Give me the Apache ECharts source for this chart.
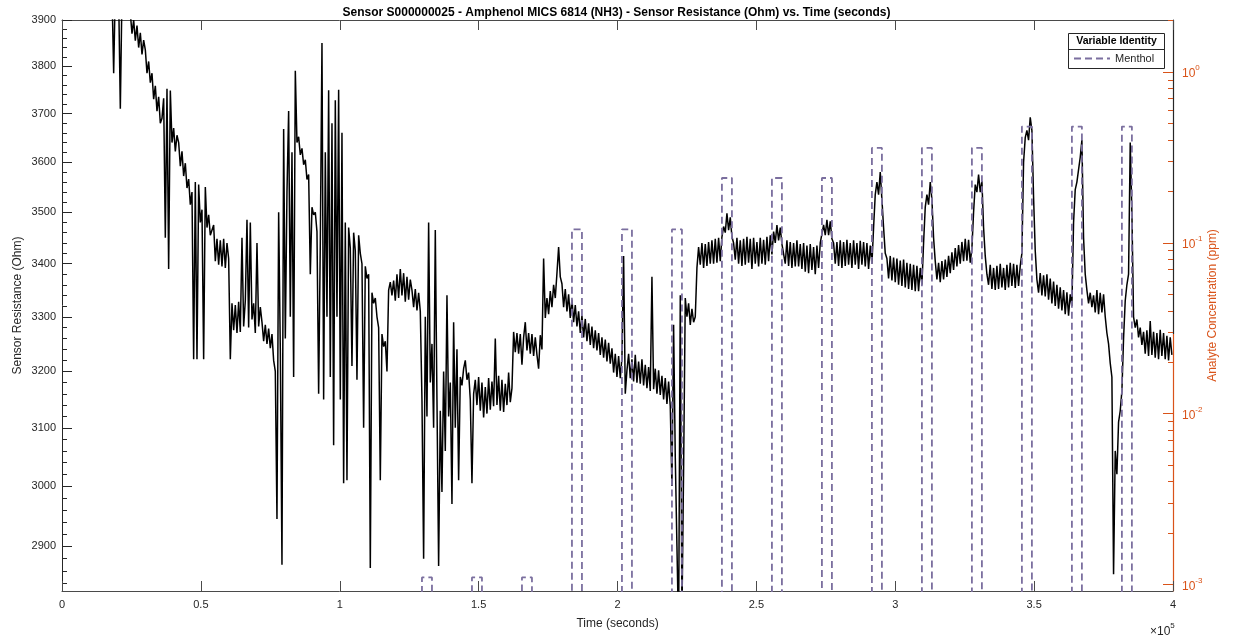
<!DOCTYPE html>
<html><head><meta charset="utf-8">
<script src="https://cdn.jsdelivr.net/npm/echarts@6/dist/echarts.min.js"></script>
<style>html,body{margin:0;padding:0;background:#fff}#c{width:1233px;height:638px}</style>
</head><body><div id="c"></div>
<script>
// ---- Data ----
const sampleStart = 18000;   // seconds, first sample
const sampleStep = 600;      // seconds between samples
const resistance = [
3960,3785,3970,3990,3950,3710,3960,3980,3990,3970,
3960,3915,3870,3900,3855,3888,3840,3872,3825,3856,
3835,3785,3810,3765,3785,3730,3758,3705,3735,3680,
3690,3732,3450,3752,3390,3748,3640,3670,3622,3655,
3640,3592,3622,3572,3598,3548,3566,3515,3540,3222,
3560,3222,3555,3480,3505,3222,3550,3470,3495,3455,
3455,3475,3405,3448,3398,3445,3395,3448,3392,3440,
3410,3222,3325,3275,3322,3270,3328,3272,3450,3282,
3330,3485,3280,3480,3295,3325,3270,3440,3282,3318,
3290,3255,3285,3250,3278,3242,3268,3220,3200,2945,
3500,3240,2870,3668,3260,3540,3705,3300,3620,3190,
3790,3640,3652,3615,3628,3595,3605,3565,3575,3380,
3510,3495,3500,3462,3160,3440,3850,3150,3620,3300,
3749,3190,3680,3070,3728,3300,3750,3150,3660,3005,
3480,3010,3470,3430,3210,3460,3425,3185,3455,3420,
3400,3100,3395,3372,3380,2865,3345,3325,3335,3300,
3280,3010,3268,3245,3255,3200,3350,3365,3340,3368,
3330,3380,3335,3390,3340,3382,3328,3375,3332,3370,
3350,3318,3352,3312,3345,3310,3150,2880,3300,3120,
3480,3180,3250,3100,3465,3150,2868,3130,2990,3200,
3060,3340,3120,3180,2970,3290,3100,3240,3010,3190,
3175,3205,3220,3185,3198,3150,3005,3160,3185,3140,
3190,3130,3180,3118,3172,3125,3188,3132,3182,3138,
3260,3140,3192,3130,3185,3128,3178,3140,3198,3145,
3170,3272,3235,3270,3232,3268,3212,3262,3290,3238,
3270,3232,3268,3228,3262,3230,3205,3266,3240,3410,
3298,3335,3305,3348,3318,3360,3335,3382,3432,3375,
3362,3318,3352,3310,3342,3298,3332,3290,3322,3282,
3310,3270,3302,3262,3296,3255,3288,3248,3282,3242,
3275,3238,3270,3230,3262,3225,3258,3218,3252,3214,
3242,3198,3232,3190,3228,3188,3225,3415,3160,3202,
3232,3188,3222,3182,3230,3180,3218,3178,3222,3175,
3212,3170,3208,3165,3375,3168,3205,3160,3202,3158,
3192,3150,3188,3142,3182,3138,3000,3285,3050,2900,
2760,3340,2790,3030,3335,3300,3325,3285,3315,3290,
3300,3392,3432,3398,3440,3392,3438,3396,3442,3400,
3445,3400,3448,3402,3450,3405,3452,3472,3460,3498,
3465,3490,3452,3440,3408,3450,3400,3445,3396,3448,
3398,3452,3402,3448,3390,3450,3400,3442,3395,3450,
3400,3446,3398,3452,3405,3455,3418,3462,3440,3475,
3445,3470,3438,3435,3400,3445,3396,3442,3392,3440,
3395,3445,3395,3438,3390,3440,3385,3435,3382,3438,
3388,3432,3380,3435,3392,3440,3440,3475,3455,3485,
3455,3482,3448,3440,3400,3442,3396,3445,3392,3442,
3396,3446,3398,3440,3392,3445,3398,3440,3390,3444,
3398,3442,3395,3440,3390,3435,3400,3470,3535,3560,
3535,3580,3525,3470,3420,3410,3372,3415,3368,3412,
3365,3410,3360,3406,3358,3408,3355,3402,3352,3400,
3350,3398,3348,3396,3348,3392,3360,3440,3510,3535,
3515,3560,3525,3450,3405,3370,3402,3365,3405,3370,
3408,3375,3415,3382,3422,3388,3430,3395,3436,3400,
3442,3405,3448,3406,3446,3402,3430,3500,3555,3540,
3575,3540,3562,3470,3415,3380,3360,3398,3352,3392,
3350,3396,3352,3400,3355,3392,3350,3398,3355,3402,
3358,3400,3354,3398,3358,3396,3420,3600,3650,3665,
3645,3692,3665,3530,3425,3370,3345,3382,3340,3378,
3338,3380,3332,3372,3325,3366,3320,3360,3315,3355,
3312,3350,3305,3346,3302,3342,3320,3480,3545,3560,
3585,3610,3645,3450,3380,3350,3325,3345,3318,3340,
3308,3350,3305,3345,3308,3342,3300,3270,3250,3215,
3190,2855,3060,3020,3110,3130,3165,3260,3330,3360,
3380,3640,3500,3300,3280,3295,3262,3280,3248,3272,
3232,3275,3228,3292,3230,3272,3225,3270,3222,3276,
3228,3270,3222,3265,3220,3262,3230
];
const pulseStart = [129600,147600,165600,183600,201600,219600,237600,255600,273600,291600,309600,327600,345600,363600,381600];
const pulseEnd   = [133200,151200,169200,187200,205200,223200,241200,259200,277200,295200,313200,331200,349200,367200,385200];
const pulseLevel = [0.0011,0.0011,0.0011,0.12,0.12,0.12,0.24,0.24,0.24,0.36,0.36,0.36,0.48,0.48,0.48];
const baselineLevel = 0;          // ppm between exposures
const timeEnd = 400000;
const leftTickValues = [2900,3000,3100,3200,3300,3400,3500,3600,3700,3800,3900];
const rightTickValues = [0.001,0.01,0.1,1];
const rightMinorTickValues = [0.002,0.003,0.004,0.005,0.006,0.007,0.008,0.009,0.02,0.03,0.04,0.05,0.06,0.07,0.08,0.09,0.2,0.3,0.4,0.5,0.6,0.7,0.8,0.9,2];

// ---- Build ----
const leftMinorTickValues = [];
for (let v = 2840; v <= 3880; v += 20) if (v % 100 !== 0) leftMinorTickValues.push(v);
const resData = resistance.map((v, i) => [sampleStart + i * sampleStep, v]);
const LOG_FLOOR = 1e-5; // zero concentration lies below the log axis; clipped
const asLog = v => (v > 0 ? v : LOG_FLOOR);
const mentholData = [[0, asLog(baselineLevel)]];
pulseStart.forEach((s, k) => {
  mentholData.push([s, asLog(baselineLevel)], [s, pulseLevel[k]], [pulseEnd[k], pulseLevel[k]], [pulseEnd[k], asLog(baselineLevel)]);
});
mentholData.push([timeEnd, asLog(baselineLevel)]);

const FONT = 'Liberation Sans, Arial, Helvetica, sans-serif';
const TXT = '#262626';
const ORANGE = '#D95319';
const AXC = '#4a4a4a';

const chart = echarts.init(document.getElementById('c'), null, {renderer: 'canvas'});
chart.setOption({
  animation: false,
  backgroundColor: '#fff',
  textStyle: {fontFamily: FONT},
  title: [
    {text: 'Sensor S000000025 - Amphenol MICS 6814 (NH3) - Sensor Resistance (Ohm) vs. Time (seconds)',
     left: 'center', top: 2,
     textStyle: {fontFamily: FONT, fontSize: 12, fontWeight: 'bold', color: '#000'}},
    {text: '{a|×10}{b|5}', left: 1145, top: 617,
     textStyle: {fontFamily: FONT, fontWeight: 'normal', rich: {
       a: {fontFamily: FONT, fontWeight: 'normal', fontSize: 12, color: TXT, verticalAlign: 'bottom', lineHeight: 16},
       b: {fontFamily: FONT, fontWeight: 'normal', fontSize: 8, color: TXT, verticalAlign: 'top', lineHeight: 9}}}}
  ],
  grid: {left: 62, right: 60, top: 20, bottom: 47, containLabel: false},
  legend: {
    data: ['Menthol'], left: 1073, top: 53, padding: 0, z: 7,
    itemWidth: 36, itemHeight: 10, itemGap: 5,
    itemStyle: {opacity: 0},
    textStyle: {fontFamily: FONT, fontSize: 11, color: TXT}
  },
  graphic: [
    {type: 'rect', z: 6, shape: {x: 1068.5, y: 33.5, width: 96, height: 35}, style: {fill: '#fff', stroke: '#262626', lineWidth: 1}},
    {type: 'line', z: 6, shape: {x1: 1068.5, y1: 49.5, x2: 1164.5, y2: 49.5}, style: {stroke: '#262626', lineWidth: 1}},
    {type: 'text', z: 7, x: 1116.5, y: 41.5, style: {text: 'Variable Identity', font: 'bold 10.5px ' + FONT, fill: '#000', align: 'center', verticalAlign: 'middle', textAlign: 'center', textVerticalAlign: 'middle'}}
  ],
  xAxis: [
    {type: 'value', position: 'bottom', min: 0, max: timeEnd, interval: 50000,
     name: 'Time (seconds)', nameLocation: 'middle', nameGap: 27,
     nameTextStyle: {fontFamily: FONT, fontSize: 12, color: TXT},
     axisLine: {show: true, onZero: false, lineStyle: {color: AXC, width: 1}},
     axisTick: {show: true, inside: true, length: 10, lineStyle: {color: AXC}},
     axisLabel: {show: true, margin: 8, fontFamily: FONT, fontSize: 11, color: TXT,
                 formatter: v => String(v / 1e5)},
     splitLine: {show: false}},
    {type: 'value', position: 'top', min: 0, max: timeEnd, interval: 50000,
     axisLine: {show: true, onZero: false, lineStyle: {color: AXC, width: 1}},
     axisTick: {show: true, inside: true, length: 10, lineStyle: {color: AXC}},
     axisLabel: {show: false}, splitLine: {show: false}}
  ],
  yAxis: [
    {type: 'log', position: 'left', min: 2828, max: 3900, logBase: 10,
     name: 'Sensor Resistance (Ohm)', nameLocation: 'middle', nameGap: 38, nameRotate: 90,
     nameMoveOverlap: false,
     nameTextStyle: {fontFamily: FONT, fontSize: 12, color: TXT},
     axisLine: {show: true, onZero: false, lineStyle: {color: '#262626', width: 1}},
     axisTick: {show: true, inside: true, length: 10, customValues: leftTickValues, lineStyle: {color: '#262626'}},
     axisLabel: {show: true, inside: false, margin: 6, fontFamily: FONT, fontSize: 11, color: TXT,
                 customValues: leftTickValues, formatter: v => String(Math.round(v))},
     splitLine: {show: false}, minorTick: {show: false}},
    {type: 'log', position: 'right', min: 0.000916, max: 2.02, logBase: 10,
     name: 'Analyte Concentration (ppm)', nameLocation: 'middle', nameGap: 34, nameRotate: 90,
     nameMoveOverlap: false,
     nameTextStyle: {fontFamily: FONT, fontSize: 12, color: ORANGE},
     axisLine: {show: true, onZero: false, lineStyle: {width: 1.2,
       color: new echarts.graphic.LinearGradient(0, 0, 0, 1, [
         {offset: 0, color: '#262626'}, {offset: 0.55, color: '#262626'},
         {offset: 0.55, color: ORANGE}, {offset: 1, color: ORANGE}])}},
     axisTick: {show: true, inside: true, length: 10, customValues: rightTickValues, lineStyle: {color: ORANGE}},
     axisLabel: {show: true, margin: 9, color: ORANGE, customValues: rightTickValues,
       formatter: v => '{b|10}{e|' + Math.round(Math.log10(v)) + '}',
       rich: {
         b: {fontFamily: FONT, fontSize: 12, color: ORANGE, verticalAlign: 'bottom', lineHeight: 16},
         e: {fontFamily: FONT, fontSize: 8, color: ORANGE, verticalAlign: 'top', lineHeight: 9}}},
     splitLine: {show: false}},
    {type: 'log', position: 'left', min: 2828, max: 3900, logBase: 10,
     axisLine: {show: false, onZero: false}, axisLabel: {show: false}, splitLine: {show: false},
     axisTick: {show: true, inside: true, length: 5, customValues: leftMinorTickValues, lineStyle: {color: '#262626'}}},
    {type: 'log', position: 'right', min: 0.000916, max: 2.02, logBase: 10,
     axisLine: {show: false, onZero: false}, axisLabel: {show: false}, splitLine: {show: false},
     axisTick: {show: true, inside: true, length: 5, customValues: rightMinorTickValues, lineStyle: {color: ORANGE}}}
  ],
  series: [
    {name: 'Sensor Resistance', type: 'line', xAxisIndex: 0, yAxisIndex: 0, data: resData,
     showSymbol: false, symbol: 'none', clip: true, z: 2,
     lineStyle: {color: '#000', width: 1.5}, itemStyle: {color: '#000'}},
    {name: 'Menthol', type: 'line', xAxisIndex: 0, yAxisIndex: 1, data: mentholData,
     showSymbol: false, symbol: 'none', clip: true, z: 3,
     lineStyle: {color: '#7b6f9f', width: 1.8, type: [7, 4]}, itemStyle: {color: '#7b6f9f'}}
  ]
});
</script></body></html>
